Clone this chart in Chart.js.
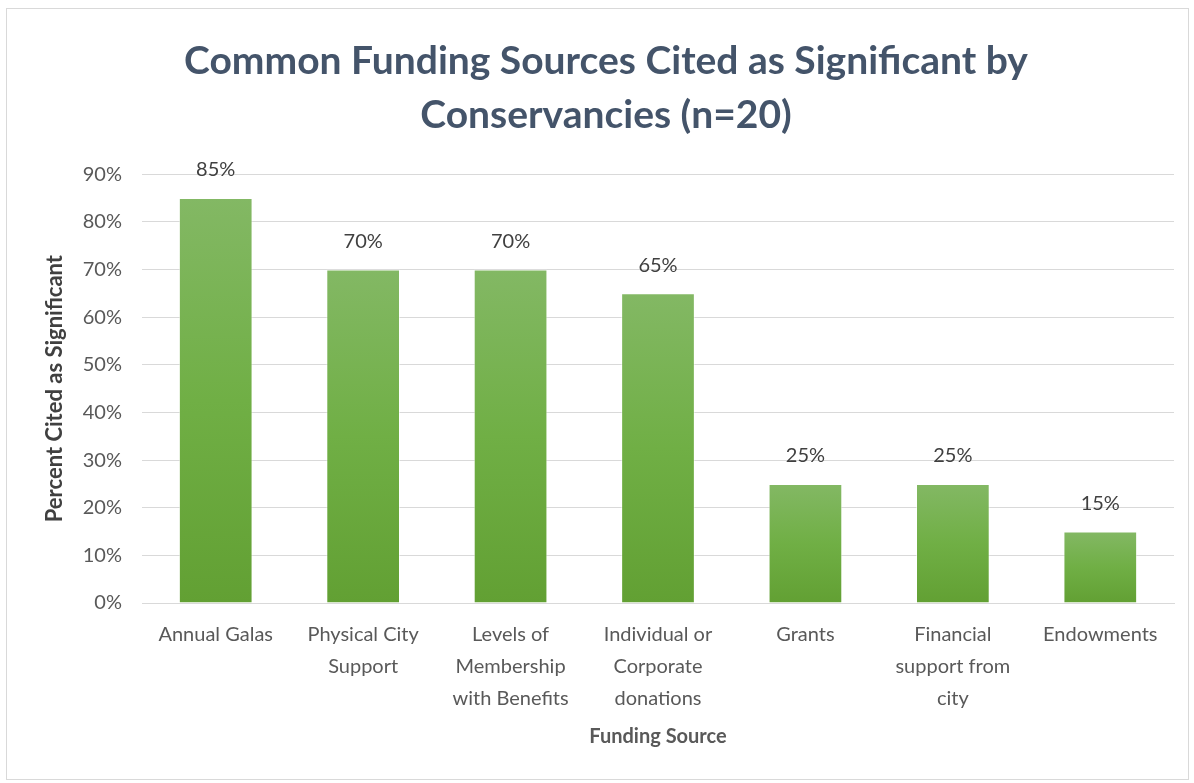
<!DOCTYPE html>
<html>
<head>
<meta charset="utf-8">
<script src="https://cdn.jsdelivr.net/npm/chart.js@4.4.0/dist/chart.umd.min.js"></script>
<style>
  html, body { margin: 0; padding: 0; background: #fff; }
  #wrap { position: relative; width: 1194px; height: 783px; }
  #frame { position: absolute; left: 6px; top: 8px; width: 1183px; height: 772px; border: 1px solid #d9d9d9; box-sizing: border-box; }
  canvas { position: absolute; left: 0; top: 0; }
</style>
</head>
<body>
<div id="wrap">
  <div id="frame"></div>
  <canvas id="chart" width="1194" height="783"></canvas>
</div>
<script>
// Funding sources (x categories)
const sources = [
  'Annual Galas',
  ['Physical City', 'Support'],
  ['Levels of', 'Membership', 'with Benefits'],
  ['Individual or', 'Corporate', 'donations'],
  'Grants',
  ['Financial', 'support from', 'city'],
  'Endowments',
];

// Percent of conservancies citing each source
const percentCited = [85, 70, 70, 65, 25, 25, 15];

// y axis ticks
const yMax = 90;
const yStep = 10;

const fontFamily = "Lato, 'Open Sans', sans-serif";

// draws the value labels above each bar
const barLabels = {
  id: 'barLabels',
  afterDatasetsDraw(chart) {
    const ctx = chart.ctx;
    const meta = chart.getDatasetMeta(0);
    ctx.save();
    ctx.font = '20px ' + fontFamily;
    ctx.fillStyle = '#404040';
    ctx.textAlign = 'center';
    ctx.textBaseline = 'middle';
    meta.data.forEach((bar, i) => {
      ctx.fillText(percentCited[i] + '%', bar.x, bar.y - 28);
    });
    ctx.restore();
  }
};

// lighter at the top of each bar, darker at the base
function barGradient(context) {
  const chart = context.chart;
  const area = chart.chartArea;
  if (!area) return '#70ad47';
  const yScale = chart.scales.y;
  const top = yScale.getPixelForValue(context.raw);
  const bottom = yScale.getPixelForValue(0);
  const g = chart.ctx.createLinearGradient(0, top, 0, bottom);
  g.addColorStop(0, '#83b864');
  g.addColorStop(0.5, '#70af45');
  g.addColorStop(1, '#62a033');
  return g;
}

new Chart(document.getElementById('chart'), {
  type: 'bar',
  data: {
    labels: sources,
    datasets: [{
      data: percentCited,
      backgroundColor: barGradient,
      borderColor: 'rgba(255,255,255,0.5)',
      borderWidth: 1,
      barPercentage: 1,
      categoryPercentage: 0.5,
    }]
  },
  options: {
    responsive: false,
    animation: false,
    layout: { padding: { left: 38, right: 20, top: 12, bottom: 30 } },
    plugins: {
      legend: { display: false },
      tooltip: { enabled: false },
      title: {
        display: true,
        text: ['Common Funding Sources Cited as Significant by', 'Conservancies (n=20)'],
        color: '#44546a',
        font: { family: fontFamily, size: 39, weight: 'bold', lineHeight: 1.4 },
        padding: { top: 22, bottom: 31 },
      },
    },
    scales: {
      x: {
        grid: { display: false },
        border: { color: '#d9d9d9' },
        ticks: {
          color: '#595959',
          font: { family: fontFamily, size: 20, lineHeight: 1.6 },
          maxRotation: 0,
          autoSkip: false,
          padding: 8,
        },
        title: {
          display: true,
          text: 'Funding Source',
          color: '#595959',
          font: { family: fontFamily, size: 20, weight: 'bold' },
          padding: { top: 2 },
        },
      },
      y: {
        min: 0,
        max: yMax,
        ticks: {
          stepSize: yStep,
          color: '#595959',
          font: { family: fontFamily, size: 20 },
          padding: 20,
          callback: (v) => v + '%',
        },
        grid: { color: '#d9d9d9', drawTicks: false },
        border: { display: false },
        title: {
          display: true,
          text: 'Percent Cited as Significant',
          color: '#404040',
          font: { family: fontFamily, size: 22, weight: 'bold' },
          padding: { bottom: 10 },
        },
        afterFit: (scale) => { scale.width = 104; },
      },
    },
  },
  plugins: [barLabels],
});
</script>
</body>
</html>
